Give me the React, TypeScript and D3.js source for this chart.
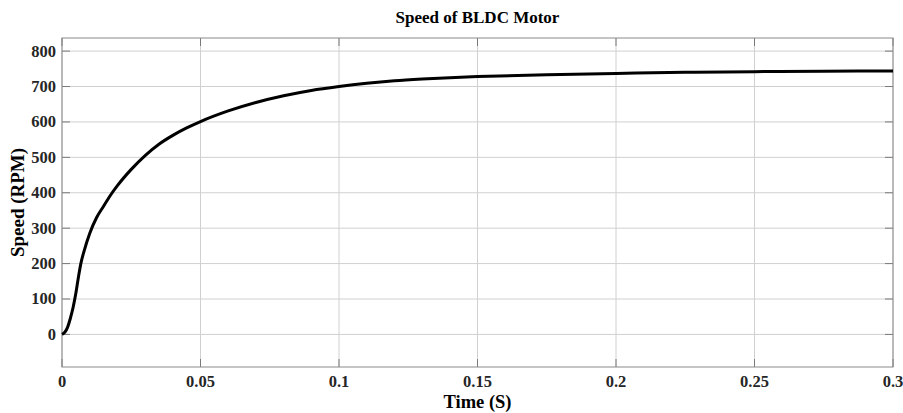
import React from "react";
import * as d3 from "d3";

const timeS = [0, 0.001, 0.002, 0.003, 0.004, 0.005, 0.006, 0.0068, 0.008, 0.01, 0.0125, 0.015, 0.0175, 0.02, 0.025, 0.03, 0.035, 0.04, 0.045, 0.05, 0.06, 0.07, 0.08, 0.09, 0.1, 0.11, 0.12, 0.13, 0.14, 0.15, 0.175, 0.2, 0.225, 0.25, 0.275, 0.3];
const speedRPM = [0, 6, 20, 45, 76, 116, 165, 200, 236, 285, 330, 362, 393, 420, 466, 505, 537, 562, 583, 601, 631, 655, 674, 689, 700, 709, 716, 721, 725, 728, 733.5, 737, 740, 742, 743, 744];
const xTicks = [0, 0.05, 0.1, 0.15, 0.2, 0.25, 0.3];
const xTickLabels = ["0", "0.05", "0.1", "0.15", "0.2", "0.25", "0.3"];
const yTicks = [0, 100, 200, 300, 400, 500, 600, 700, 800];

export default function App() {
  const W = 903, H = 413;
  const left = 62, right = 893, top = 38, bottom = 367;
  const x = d3.scaleLinear().domain([0, 0.3]).range([left, right]);
  const y = d3.scaleLinear().domain([-92, 837]).range([bottom, top]);
  const data = timeS.map((t, i) => [t, speedRPM[i]] as [number, number]);
  const line = d3.line<[number, number]>().x(d => x(d[0])).y(d => y(d[1])).curve(d3.curveMonotoneX);
  const font = "Liberation Serif";
  return (
    <svg width={W} height={H} style={{ position: "absolute", left: 0, top: 0, background: "#fff" }}>
      <rect x={0} y={0} width={W} height={H} fill="#fff" />
      {xTicks.map(t => (
        <line key={"gx" + t} x1={x(t)} x2={x(t)} y1={top} y2={bottom} stroke="#d0d0d0" strokeWidth={1} />
      ))}
      {yTicks.map(v => (
        <line key={"gy" + v} x1={left} x2={right} y1={y(v)} y2={y(v)} stroke="#d0d0d0" strokeWidth={1} />
      ))}
      {xTicks.map(t => (
        <g key={"tx" + t}>
          <line x1={x(t)} x2={x(t)} y1={bottom} y2={bottom - 8} stroke="#7a7a7a" />
          <line x1={x(t)} x2={x(t)} y1={top} y2={top + 8} stroke="#7a7a7a" />
        </g>
      ))}
      {yTicks.map(v => (
        <g key={"ty" + v}>
          <line x1={left} x2={left + 8} y1={y(v)} y2={y(v)} stroke="#7a7a7a" />
          <line x1={right} x2={right - 8} y1={y(v)} y2={y(v)} stroke="#7a7a7a" />
        </g>
      ))}
      <rect x={left} y={top} width={right - left} height={bottom - top} fill="none" stroke="#8a8a8a" strokeWidth={1} />
      <path d={line(data) || ""} fill="none" stroke="#000" strokeWidth={3} strokeLinejoin="round" />
      {xTicks.map((t, i) => (
        <text key={"lx" + t} x={x(t)} y={387} textAnchor="middle" fontFamily={font} fontWeight="bold" fontSize={16.5} fill="#262626">{xTickLabels[i]}</text>
      ))}
      {yTicks.map(v => (
        <text key={"ly" + v} x={56} y={y(v)} dy="0.33em" textAnchor="end" fontFamily={font} fontWeight="bold" fontSize={16.5} fill="#262626">{v}</text>
      ))}
      <text x={(left + right) / 2} y={23} textAnchor="middle" fontFamily={font} fontWeight="bold" fontSize={17} fill="#000">Speed of BLDC Motor</text>
      <text x={(left + right) / 2} y={408} textAnchor="middle" fontFamily={font} fontWeight="bold" fontSize={18.5} fill="#000">Time (S)</text>
      <text transform={`translate(24, ${(top + bottom) / 2}) rotate(-90)`} textAnchor="middle" fontFamily={font} fontWeight="bold" fontSize={19} fill="#000">Speed (RPM)</text>
    </svg>
  );
}
